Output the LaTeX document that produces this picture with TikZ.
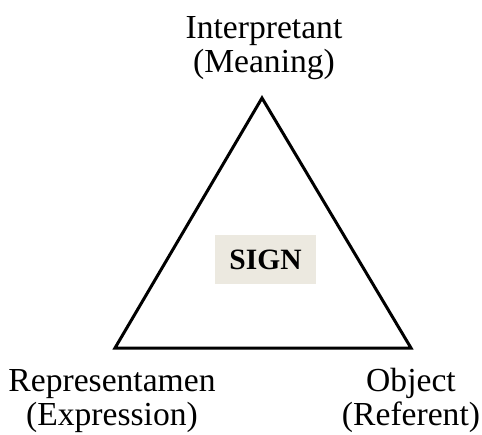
\documentclass[tikz,border=0pt]{standalone}
\usepackage{fontspec}
\setmainfont{Liberation Serif}
\definecolor{signbg}{HTML}{ECE9E0}
\tikzset{
  lbl/.style={align=center, inner sep=0pt, font=\fontsize{33.6}{34}\selectfont},
  edge/.style={line width=3pt, line join=miter},
  signbox/.style={fill=signbg, minimum width=101pt, minimum height=49pt, inner sep=0pt, font=\bfseries\fontsize{29.5}{30}\selectfont}
}
\begin{document}
\begin{tikzpicture}[x=1pt,y=-1pt]
\useasboundingbox (0,0) rectangle (482,434);
\coordinate (top) at (262,98);
\coordinate (left) at (115,348);
\coordinate (right) at (411,348);
\draw[edge] (top) -- (left) -- (right) -- cycle;
\node[signbox] (sign) at (265.5,259.5) {SIGN};
\node[lbl, anchor=base] (interp) at (264,72) {Interpretant\\(Meaning)};
\node[lbl, anchor=base] (repr) at (112,425) {Representamen\\(Expression)};
\node[lbl, anchor=base] (obj) at (411,425) {Object\\(Referent)};
\end{tikzpicture}
\end{document}
